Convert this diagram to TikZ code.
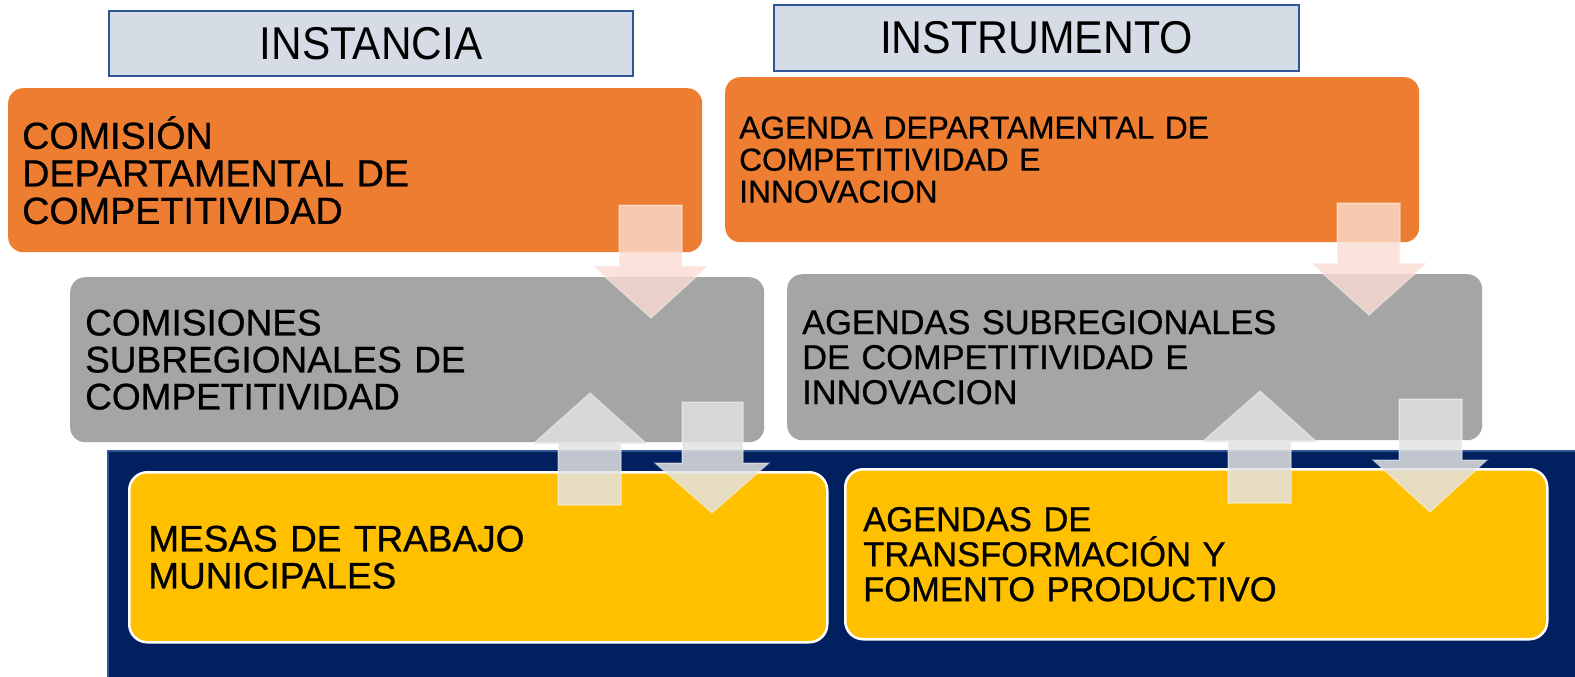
\documentclass[tikz,border=0pt]{standalone}
\usepackage{fontspec}
\setmainfont{Liberation Sans}
\newfontfamily\bx{Liberation Sans}[FakeBold=0.7]
\definecolor{corange}{HTML}{ED7D31}
\definecolor{cgrey}{HTML}{A5A5A5}
\definecolor{cyellow}{HTML}{FFC000}
\definecolor{cnavy}{HTML}{002060}
\definecolor{chead}{HTML}{D6DCE5}
\definecolor{cheadline}{HTML}{2F5597}
\definecolor{cpink}{RGB}{250,220,210}
\definecolor{cpale}{RGB}{226,226,226}
\begin{document}
\begin{tikzpicture}[x=1pt,y=-1pt,
  header/.style={draw=cheadline,line width=2pt,fill=chead,inner sep=0pt,anchor=north west,font=\fontsize{46}{46}\selectfont},
  box/.style={rounded corners=15pt,inner xsep=14pt,inner ysep=0pt,align=left,anchor=north west},
  obox/.style={box,fill=corange},
  gbox/.style={box,fill=cgrey},
  ybox/.style={box,fill=cyellow,draw=white,line width=2.5pt,rounded corners=18pt},
  pinkarrow/.style={fill=cpink,fill opacity=0.8,draw=white,draw opacity=0.35,line width=1.5pt},
  palearrow/.style={fill=cpale,fill opacity=0.85,draw=white,draw opacity=0.35,line width=1.5pt}
]
\useasboundingbox (0,0) rectangle (1575,677);
\fill[white] (0,0) rectangle (1575,677);

% navy background
\path[fill=cnavy,draw=cheadline,line width=1.5pt] (108,451) rectangle (1578,680);

% headers
\node[header,minimum width=524pt,minimum height=65pt] (h1) at (108,10)
  {\scalebox{0.92}[1]{INSTANCIA}};
\node[header,minimum width=525pt,minimum height=66pt] (h2) at (773,4)
  {\scalebox{0.93}[1]{INSTRUMENTO}};

% orange boxes
\node[obox,minimum width=694pt,minimum height=164pt,text width=666pt,
  font=\bx\fontsize{37.7}{37.5}\selectfont] (o1) at (8,88)
  {COMISIÓN\\DEPARTAMENTAL DE\\COMPETITIVIDAD};
\node[obox,minimum width=694pt,minimum height=165pt,text width=666pt,
  font=\bx\fontsize{31.7}{32}\selectfont] (o2) at (725,77)
  {AGENDA DEPARTAMENTAL DE\\COMPETITIVIDAD E\\INNOVACION};

% grey boxes
\node[gbox,minimum width=694pt,minimum height=165pt,text width=664pt,inner xsep=15pt,
  font=\bx\fontsize{37}{37}\selectfont] (g1) at (70,277)
  {COMISIONES\\SUBREGIONALES DE\\COMPETITIVIDAD};
\node[gbox,minimum width=695pt,minimum height=166pt,text width=665pt,inner xsep=14pt,
  font=\bx\fontsize{34.4}{35}\selectfont] (g2) at (787,274)
  {AGENDAS SUBREGIONALES\\DE COMPETITIVIDAD E\\INNOVACION};

% yellow boxes
\node[ybox,minimum width=698pt,minimum height=170pt,text width=660pt,inner xsep=19pt,
  font=\bx\fontsize{37}{37}\selectfont] (y1) at (128,471)
  {MESAS DE TRABAJO\\MUNICIPALES};
\node[ybox,minimum width=702pt,minimum height=170pt,text width=666pt,inner xsep=18pt,
  font=\bx\fontsize{34.5}{35}\selectfont] (y2) at (844,468)
  {AGENDAS DE\\TRANSFORMACIÓN Y\\FOMENTO PRODUCTIVO};

% block arrows
\path[pinkarrow] (619,205) -- (682,205) -- (682,266) -- (708,266) -- (651,318) -- (593,266) -- (619,266) -- cycle;
\path[palearrow] (558,505) -- (621,505) -- (621,444) -- (647,444) -- (590,393) -- (533,444) -- (558,444) -- cycle;
\path[palearrow] (682,402) -- (743,402) -- (743,463) -- (769,463) -- (712,513) -- (655,463) -- (682,463) -- cycle;

\path[pinkarrow] (1337,203) -- (1400,203) -- (1400,263) -- (1427,263) -- (1369,315) -- (1311,263) -- (1337,263) -- cycle;
\path[palearrow] (1228,503) -- (1291,503) -- (1291,442) -- (1317,442) -- (1260,391) -- (1202,442) -- (1228,442) -- cycle;
\path[palearrow] (1399,399) -- (1462,399) -- (1462,460) -- (1487,460) -- (1430,512) -- (1373,460) -- (1399,460) -- cycle;
\end{tikzpicture}
\end{document}
